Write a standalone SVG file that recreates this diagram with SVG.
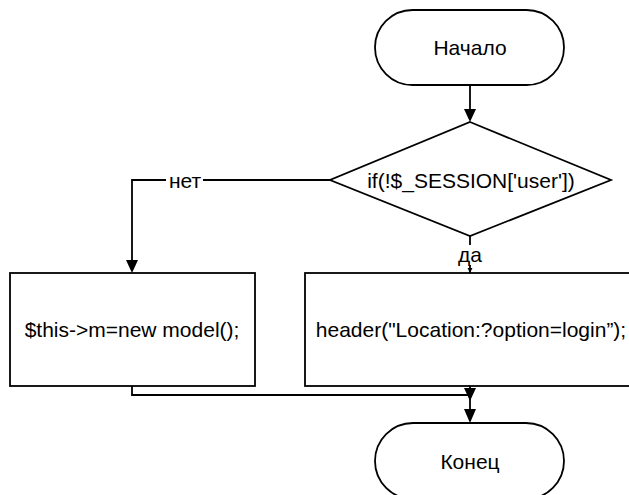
<svg xmlns="http://www.w3.org/2000/svg" width="629" height="495" viewBox="0 0 629 495">
<defs>
<style>
.s{fill:#fff;stroke:#000;stroke-width:1.8}
.c{fill:none;stroke:#000;stroke-width:1.8}
.t{font-family:"Liberation Sans",Arial,sans-serif;font-size:21px;fill:#000;text-anchor:middle}
</style>
</defs>
<g id="connectors">
<path class="c" d="M470,85 V109" />
<path d="M464,109 L476,109 L470,122 Z" fill="#000"/>
<path class="c" d="M330,180 H132 V260"/>
<path d="M126,260 L138,260 L132,273 Z" fill="#000"/>
<path class="c" d="M470,236 V273"/>
<path d="M467.5,268 L472.5,268 L470,273 Z" fill="#000"/>
<path class="c" d="M132,386 V395 H470 V388"/>
<path d="M464,388 L476,388 L470,401 Z" fill="#000"/>
<path class="c" d="M470,386 V410"/>
<path d="M464,409 L476,409 L470,423 Z" fill="#000"/>
<rect x="166" y="170" width="37" height="20" fill="#fff"/>
<text class="t" x="185" y="188">нет</text>
<rect x="454" y="245" width="33" height="20" fill="#fff"/>
<text class="t" x="470" y="262">да</text>
</g>
<g id="start">
<rect class="s" x="375" y="10" width="189" height="75" rx="37.5" ry="37.5"/>
<text class="t" x="470" y="55">Начало</text>
</g>
<g id="decision">
<polygon class="s" points="470,122 611,180 470,236 330,180"/>
<text class="t" x="471" y="188">if(!$_SESSION['user'])</text>
</g>
<g id="model">
<rect class="s" x="10" y="273" width="245" height="113"/>
<text class="t" x="132" y="337">$this-&gt;m=new model();</text>
</g>
<g id="header">
<rect class="s" x="305" y="273" width="330" height="113"/>
<text class="t" x="471" y="337">header("Location:?option=login”);</text>
</g>
<g id="end">
<rect class="s" x="375" y="423" width="189" height="76" rx="38" ry="38"/>
<text class="t" x="470" y="469">Конец</text>
</g>
</svg>
